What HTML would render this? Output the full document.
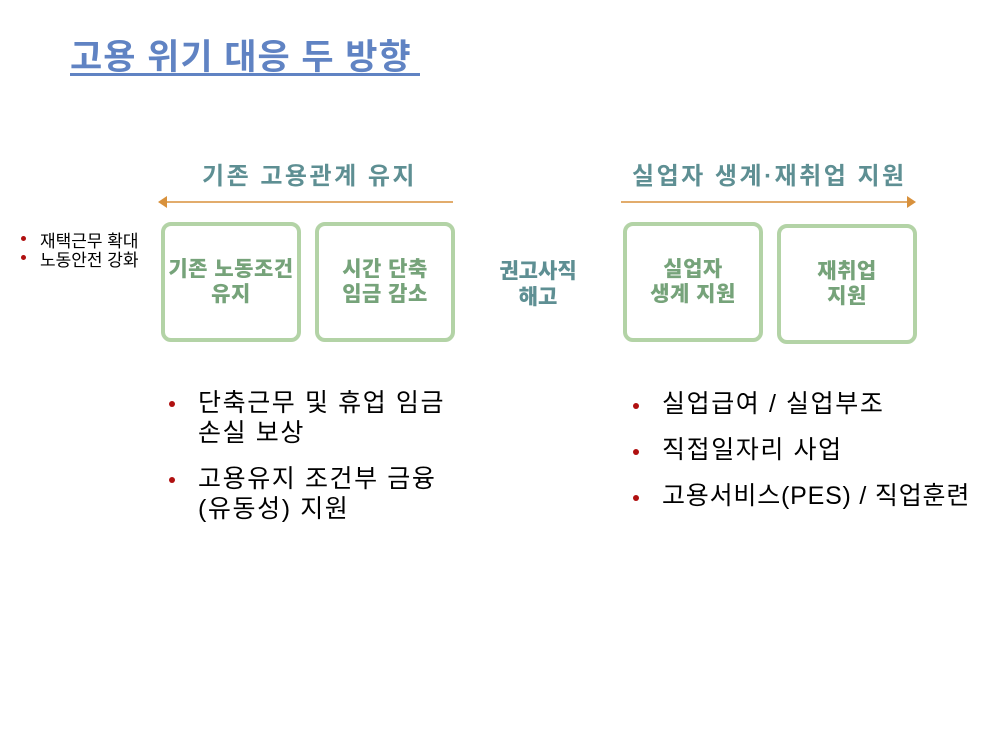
<!DOCTYPE html>
<html><head><meta charset="utf-8"><style>
body{margin:0;width:1000px;height:750px;background:#fff;position:relative;overflow:hidden;font-family:"Liberation Sans","Noto Sans CJK KR",sans-serif;}
.a{position:absolute;white-space:nowrap;}
.title{left:70px;top:29px;font-size:35px;font-weight:bold;color:#6083c3;letter-spacing:1px;}
.uline{left:70px;top:73px;width:350px;height:3px;background:#6083c3;}
.hd{font-size:24px;font-weight:bold;color:#5e8f93;top:156px;letter-spacing:2.5px;}
.box{position:absolute;width:132px;height:112px;border:4px solid #b3d3a6;border-radius:10px;display:flex;align-items:center;justify-content:center;text-align:center;font-weight:900;font-size:21px;line-height:25px;color:#76a37a;box-sizing:content-box;letter-spacing:0.5px;}
.sm{font-size:17px;color:#000;}
.bl{font-size:25px;color:#000;line-height:30px;letter-spacing:1.6px;}
.bd{position:absolute;width:6px;height:6px;border-radius:50%;background:#b01010;}
</style></head><body>
<div class="a title">고용 위기 대응 두 방향</div>
<div class="a uline"></div>

<div class="a hd" style="left:202px;">기존 고용관계 유지</div>
<div class="a hd" style="left:632px;">실업자 생계·재취업 지원</div>

<svg class="a" style="left:0;top:0" width="1000" height="750">
<line x1="166" y1="202" x2="453" y2="202" stroke="#d8913c" stroke-width="1.5"/>
<polygon points="158,202 167,196 167,208" fill="#d8913c"/>
<line x1="621" y1="202" x2="908" y2="202" stroke="#d8913c" stroke-width="1.5"/>
<polygon points="916,202 907,196 907,208" fill="#d8913c"/>
</svg>

<div class="bd" style="left:21px;top:236px;width:5px;height:5px;"></div>
<div class="bd" style="left:21px;top:255px;width:5px;height:5px;"></div>
<div class="a sm" style="left:40px;top:227px;">재택근무 확대</div>
<div class="a sm" style="left:40px;top:246px;">노동안전 강화</div>

<div class="box" style="left:161px;top:222px;">기존 노동조건<br>유지</div>
<div class="box" style="left:315px;top:222px;">시간 단축<br>임금 감소</div>
<div class="a" style="left:488px;top:259px;width:100px;text-align:center;font-weight:900;font-size:21px;line-height:26px;color:#5e8f93;">권고사직<br>해고</div>
<div class="box" style="left:623px;top:222px;">실업자<br>생계 지원</div>
<div class="box" style="left:777px;top:224px;">재취업<br>지원</div>

<div class="bd" style="left:169px;top:401px;"></div>
<div class="a bl" style="left:198px;top:388px;">단축근무 및 휴업 임금<br>손실 보상</div>
<div class="bd" style="left:169px;top:477px;"></div>
<div class="a bl" style="left:198px;top:464px;">고용유지 조건부 금융<br>(유동성) 지원</div>

<div class="bd" style="left:633px;top:403px;"></div>
<div class="a bl" style="left:662px;top:389px;">실업급여 / 실업부조</div>
<div class="bd" style="left:633px;top:449px;"></div>
<div class="a bl" style="left:662px;top:435px;">직접일자리 사업</div>
<div class="bd" style="left:633px;top:495px;"></div>
<div class="a bl" style="left:662px;top:481px;letter-spacing:0.8px;">고용서비스(PES) / 직업훈련</div>
</body></html>
